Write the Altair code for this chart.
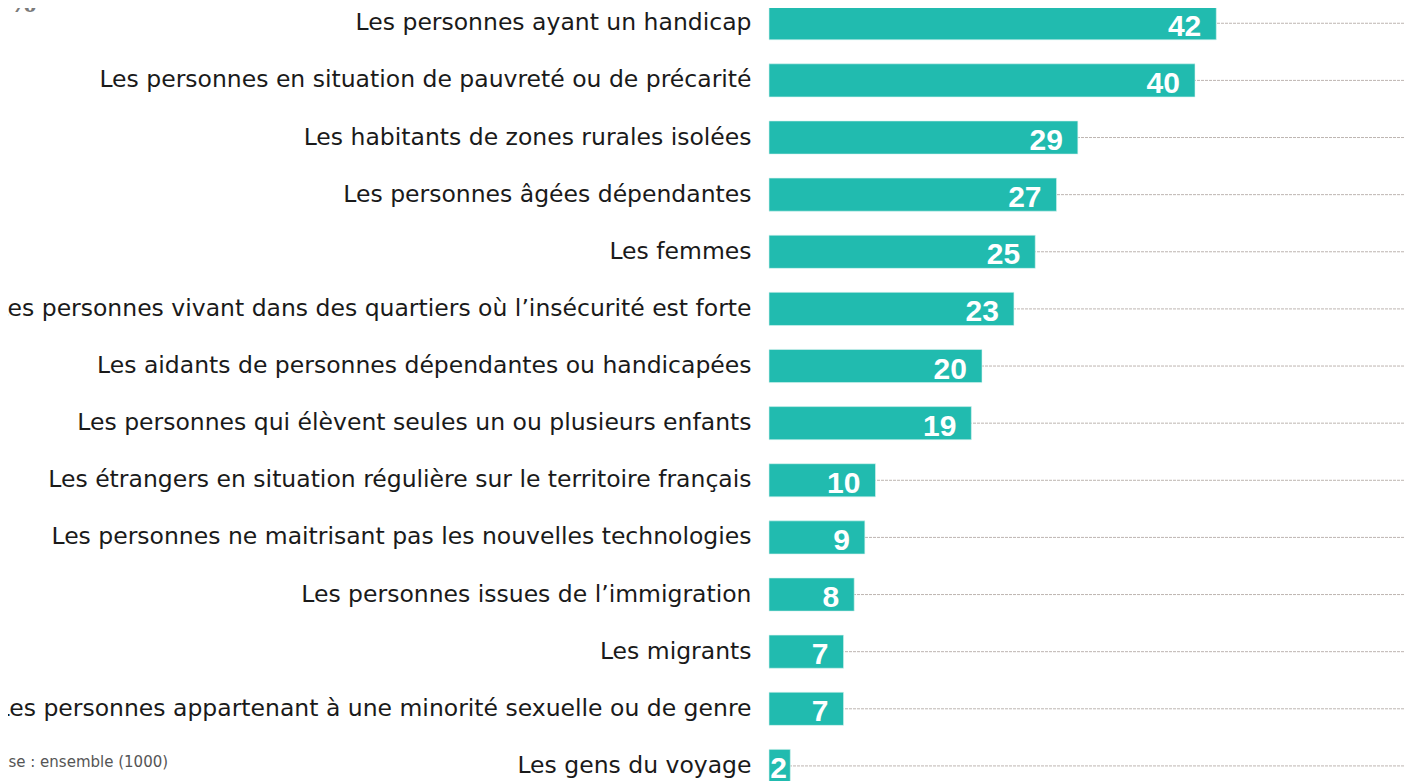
import altair as alt
import pandas as pd

categories = [
    "Les personnes ayant un handicap",
    "Les personnes en situation de pauvreté ou de précarité",
    "Les habitants de zones rurales isolées",
    "Les personnes âgées dépendantes",
    "Les femmes",
    "Les personnes vivant dans des quartiers où l’insécurité est forte",
    "Les aidants de personnes dépendantes ou handicapées",
    "Les personnes qui élèvent seules un ou plusieurs enfants",
    "Les étrangers en situation régulière sur le territoire français",
    "Les personnes ne maitrisant pas les nouvelles technologies",
    "Les personnes issues de l’immigration",
    "Les migrants",
    "Les personnes appartenant à une minorité sexuelle ou de genre",
    "Les gens du voyage",
]
values = [42, 40, 29, 27, 25, 23, 20, 19, 10, 9, 8, 7, 7, 2]

title_text = "1 %"
base_text = "Base : ensemble (1000)"

df = pd.DataFrame({"cat": categories, "val": values})

W = 635
H = 773
XMAX = 635 / 10.65

yenc = alt.Y(
    "cat:N",
    sort=None,
    scale=alt.Scale(domain=categories, range=[-13.3, 786.5], paddingInner=0.42, paddingOuter=0.21),
    axis=alt.Axis(
        title=None, ticks=False, domain=False, grid=False, labelFontSize=23.5, labelFont="DejaVu Sans",
        labelColor="#1a1a1a", labelPadding=18, labelLimit=1200,
    ),
)
xscale = alt.Scale(domain=[0, XMAX], nice=False, zero=True)

base = alt.Chart(df)

rules = base.mark_rule(color="#bdb5b1", strokeDash=[3, 1], strokeWidth=1).encode(
    y=yenc, x=alt.value(0), x2=alt.value(W)
)

bars = base.mark_bar(color="#21bbaf", stroke="#d8f3f0", strokeWidth=0.6).encode(
    y=yenc,
    x=alt.X("val:Q", scale=xscale, axis=None),
)

labels = base.transform_calculate(
    pos="max(datum.val - 1.41, 1.69)"
).mark_text(
    align="right", baseline="alphabetic", dy=12.5, font="Liberation Sans",
    fontWeight="bold", fontSize=30, color="white",
).encode(
    y=yenc,
    x=alt.X("pos:Q", scale=xscale, axis=None),
    text=alt.Text("val:Q"),
)

tdf = pd.DataFrame({"t": [title_text]})
title = alt.Chart(tdf).mark_text(
    align="right", baseline="alphabetic", font="DejaVu Serif", fontWeight="bold",
    fontSize=28, color="#7a7a7a",
).encode(x=alt.value(-733), y=alt.value(4), text="t:N")

bdf = pd.DataFrame({"t": [base_text]})
basenote = alt.Chart(bdf).mark_text(
    align="left", baseline="middle", font="DejaVu Sans", fontSize=15, color="#555555",
).encode(x=alt.value(-780), y=alt.value(754), text="t:N")

chart = alt.layer(rules, bars, labels, title, basenote).properties(
    width=W, height=H,
    background="white",
    autosize=alt.AutoSizeParams(type="none"),
    padding={"left": 761, "top": 0, "right": 0, "bottom": 0},
).configure_view(strokeWidth=0, stroke="transparent")

chart.save("out.html", embed_options={"renderer": "svg", "actions": False})
